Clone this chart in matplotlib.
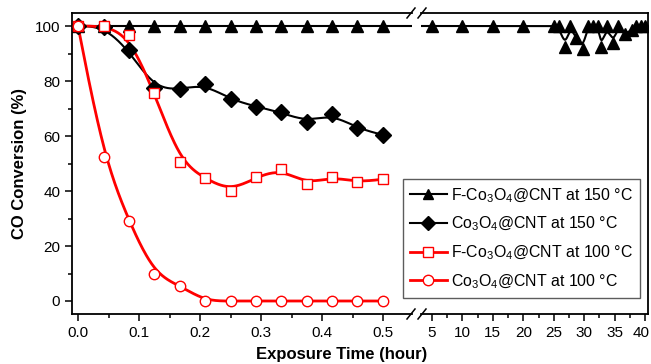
import numpy as np
import matplotlib
matplotlib.use("Agg")
import matplotlib.pyplot as plt
from matplotlib.lines import Line2D
from matplotlib.ticker import MultipleLocator
from matplotlib.transforms import ScaledTranslation

plt.rcParams['font.family'] = ['Liberation Sans', 'DejaVu Sans']
plt.rcParams['mathtext.fontset'] = 'custom'
plt.rcParams['mathtext.rm'] = 'Liberation Sans'
plt.rcParams['mathtext.it'] = 'Liberation Sans'

# ---- data ----
t_short = [0, 0.042, 0.083, 0.125, 0.167, 0.208, 0.25, 0.292, 0.333, 0.375, 0.417, 0.458, 0.5]
f150_short = [100] * 13
t_long = [5, 10, 15, 20, 25, 25.8, 26.9, 27.7, 28.7, 29.8, 30.6, 31.5, 32.3, 32.8,
          33.7, 34.8, 35.5, 36.7, 37.8, 38.6, 39.3, 40]
f150_long = [100, 100, 100, 100, 100, 100, 92.5, 100, 95.5, 91.8, 100, 100, 100, 92.3,
             100, 93.7, 100, 97, 98.5, 100, 100, 100]
co150 = [100, 99.8, 91.3, 77.3, 77.0, 78.8, 73.3, 70.7, 68.6, 65.2, 67.9, 62.8, 60.4]
f100 = [100, 100, 96.7, 75.8, 50.7, 44.6, 40.0, 45.0, 48.0, 42.5, 45.2, 43.2, 44.3]
co100 = [100, 52.5, 29.2, 9.7, 5.6, 0, 0, 0, 0, 0, 0, 0, 0]

labels = ['F-Co$_3$O$_4$@CNT at 150 °C', 'Co$_3$O$_4$@CNT at 150 °C',
          'F-Co$_3$O$_4$@CNT at 100 °C', 'Co$_3$O$_4$@CNT at 100 °C']
xticks_short = [0.0, 0.1, 0.2, 0.3, 0.4, 0.5]
xticks_long = [5, 10, 15, 20, 25, 30, 35, 40]
yticks = [0, 20, 40, 60, 80, 100]


def bspline(x, y, n=30):
    """Clamped uniform cubic B-spline using the data points as control points."""
    P = np.column_stack([x, y]).astype(float)
    P = np.vstack([P[0], P[0], P, P[-1], P[-1]])
    u = np.linspace(0, 1, n)
    b0 = (1 - u) ** 3 / 6
    b1 = (3 * u ** 3 - 6 * u ** 2 + 4) / 6
    b2 = (-3 * u ** 3 + 3 * u ** 2 + 3 * u + 1) / 6
    b3 = u ** 3 / 6
    out = []
    for i in range(len(P) - 3):
        seg = (np.outer(b0, P[i]) + np.outer(b1, P[i + 1]) +
               np.outer(b2, P[i + 2]) + np.outer(b3, P[i + 3]))
        out.append(seg)
    out = np.vstack(out)
    return out[:, 0], out[:, 1]


W, H = 651, 364
fig = plt.figure(figsize=(W / 100, H / 100), dpi=100)
top, bot = 13, 314
xL0, xL1, xR0, xR1 = 72, 412, 421, 648
axL = fig.add_axes([xL0 / W, 1 - bot / H, (xL1 - xL0) / W, (bot - top) / H])
axR = fig.add_axes([xR0 / W, 1 - bot / H, (xR1 - xR0) / W, (bot - top) / H])

t_all = t_short + t_long
f150_all = f150_short + f150_long

for ax in (axL, axR):
    bx, by = bspline(t_all, f150_all)
    ax.plot(bx, by, color='black', lw=1.5, zorder=3)
    ax.plot(t_all, f150_all, ls='none', marker='^', ms=8.5, color='black', zorder=4)

bx, by = bspline(t_short, co150)
axL.plot(bx, by, color='black', lw=1.5, zorder=3)
axL.plot(t_short, co150, ls='none', marker='D', ms=8.3, color='black', zorder=4)

bx, by = bspline(t_short, f100)
axL.plot(bx, by, color='red', lw=2, zorder=3)
axL.plot(t_short, f100, ls='none', marker='s', ms=7, mfc='white', mec='red', mew=1, zorder=4)

bx, by = bspline(t_short, co100)
axL.plot(bx, by, color='red', lw=2, zorder=3)
axL.plot(t_short, co100, ls='none', marker='o', ms=7.5, mfc='white', mec='red', mew=1, zorder=4)

ylo = -(bot - 301) / 2.75
yhi = 100 + (26 - top) / 2.75
for ax in (axL, axR):
    ax.set_ylim(ylo, yhi)
    for s in ax.spines.values():
        s.set_linewidth(1.3)
    ax.tick_params(which='both', direction='out', width=1.1, labelsize=11, top=False, right=False)
    ax.tick_params(which='major', length=5)
    ax.tick_params(which='minor', length=3)

axL.set_xlim(-(78 - xL0) / 610, 0.5 + (xL1 - 383) / 610)
axL.set_xticks(xticks_short)
axL.set_xticklabels(['%.1f' % v for v in xticks_short])
axL.xaxis.set_minor_locator(MultipleLocator(0.05))
axL.set_yticks(yticks)
axL.yaxis.set_minor_locator(MultipleLocator(10))
axL.spines['right'].set_visible(False)

pxu = (645 - 432) / 35
axR.set_xlim(5 - (432 - xR0) / pxu, 40 + (xR1 - 645) / pxu)
axR.set_xticks(xticks_long)
axR.xaxis.set_minor_locator(MultipleLocator(2.5))
axR.set_yticks([])
axR.tick_params(axis='y', which='both', left=False, labelleft=False)
axR.spines['left'].set_visible(False)
# keep the last label inside the canvas
lastlab = axR.get_xticklabels()[-1]
lastlab.set_transform(lastlab.get_transform() + ScaledTranslation(-4 / 100, 0, fig.dpi_scale_trans))

# break marks
for yb in (top, bot):
    for xc in (xL1 - 1, xR0 + 1):
        fig.add_artist(Line2D([(xc - 4) / W, (xc + 4) / W],
                              [1 - (yb + 5) / H, 1 - (yb - 5) / H],
                              color='black', lw=1.1, transform=fig.transFigure))

fig.text(20 / W, 1 - 163.5 / H, 'CO Conversion (%)', rotation=90, ha='center', va='center',
         fontsize=12, fontweight='bold')
fig.text(342 / W, 1 - 355 / H, 'Exposure Time (hour)', ha='center', va='center',
         fontsize=12, fontweight='bold')

handles = [
    Line2D([], [], color='black', lw=1.5, marker='^', ms=7.5),
    Line2D([], [], color='black', lw=1.5, marker='D', ms=7),
    Line2D([], [], color='red', lw=2, marker='s', ms=7.5, mfc='white', mec='red'),
    Line2D([], [], color='red', lw=2, marker='o', ms=7.5, mfc='white', mec='red'),
]
leg = fig.legend(handles, labels, loc='upper left', bbox_to_anchor=(403 / W, 1 - 179 / H),
                 frameon=True, fancybox=False, edgecolor='#333333', fontsize=11.4,
                 handlelength=2.3, handletextpad=0.3, labelspacing=0.65,
                 borderpad=0.45, borderaxespad=0)
leg.get_frame().set_linewidth(1.0)

fig.savefig('out.png', dpi=100)
